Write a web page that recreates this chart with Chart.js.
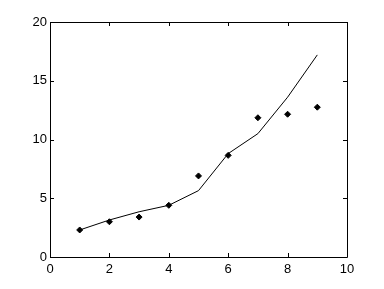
<!DOCTYPE html>
<html lang="en">

<head>
    <meta charset="UTF-8">
    <title>Fit</title>
    <script src="https://cdn.jsdelivr.net/npm/chart.js"></script>
    <style>
        html, body { margin: 0; padding: 0; background: #fff; }
        #wrap { width: 384px; height: 289px; }
    </style>
</head>

<body>
    <div id="wrap">
        <canvas id="myChart" width="384" height="289"></canvas>
    </div>

    <script>
        const xValues = [1, 2, 3, 4, 5, 6, 7, 8, 9];
        const measured = [2.3, 3.0, 3.4, 4.4, 6.9, 8.65, 11.85, 12.15, 12.75];
        const fitted = [2.3, 3.15, 3.85, 4.4, 5.65, 8.8, 10.5, 13.6, 17.2];
        const xTicks = [0, 2, 4, 6, 8, 10];
        const yTicks = [0, 5, 10, 15, 20];

        // matlab style box with inward ticks
        const boxPlugin = {
            id: 'box',
            afterDraw(chart) {
                const ctx = chart.ctx;
                const a = chart.chartArea;
                const xs = chart.scales.x;
                const ys = chart.scales.y;
                const len = 4;
                ctx.save();
                ctx.strokeStyle = '#000';
                ctx.lineWidth = 1;
                ctx.beginPath();
                ctx.rect(a.left + 0.5, a.top + 0.5, a.right - a.left, a.bottom - a.top);
                xTicks.forEach(v => {
                    const px = Math.round(xs.getPixelForValue(v)) + 0.5;
                    ctx.moveTo(px, a.bottom);
                    ctx.lineTo(px, a.bottom - len);
                    ctx.moveTo(px, a.top);
                    ctx.lineTo(px, a.top + len);
                });
                yTicks.forEach(v => {
                    const py = Math.round(ys.getPixelForValue(v)) + 0.5;
                    ctx.moveTo(a.left, py);
                    ctx.lineTo(a.left + len, py);
                    ctx.moveTo(a.right, py);
                    ctx.lineTo(a.right - len, py);
                });
                ctx.stroke();
                ctx.restore();
            }
        };

        const ctx = document.getElementById('myChart').getContext('2d');
        const tickFont = { family: 'Liberation Sans, Arial, sans-serif', size: 13 };

        new Chart(ctx, {
            type: 'scatter',
            data: {
                datasets: [{
                    label: 'data',
                    data: xValues.map((x, i) => ({ x: x, y: measured[i] })),
                    showLine: false,
                    pointStyle: 'rectRot',
                    pointRadius: 3,
                    backgroundColor: '#000',
                    borderColor: '#000',
                    borderWidth: 1
                }, {
                    label: 'fit',
                    data: xValues.map((x, i) => ({ x: x, y: fitted[i] })),
                    showLine: true,
                    pointRadius: 0,
                    borderColor: '#000',
                    borderWidth: 1,
                    tension: 0
                }]
            },
            options: {
                responsive: false,
                animation: false,
                layout: { padding: { left: 0, top: 22, right: 37, bottom: 0 } },
                plugins: {
                    legend: { display: false },
                    tooltip: { enabled: false }
                },
                scales: {
                    x: {
                        type: 'linear',
                        min: 0,
                        max: 10,
                        afterBuildTicks: s => { s.ticks = xTicks.map(v => ({ value: v })); },
                        afterFit: s => { s.height = 32; },
                        grid: { display: false, drawTicks: false },
                        border: { display: false },
                        ticks: { color: '#000', font: tickFont, padding: 5, maxRotation: 0 }
                    },
                    y: {
                        min: 0,
                        max: 20,
                        afterBuildTicks: s => { s.ticks = yTicks.map(v => ({ value: v })); },
                        afterFit: s => { s.width = 50; },
                        grid: { display: false, drawTicks: false },
                        border: { display: false },
                        ticks: { color: '#000', font: tickFont, padding: 3 }
                    }
                }
            },
            plugins: [boxPlugin]
        });
    </script>

</body>

</html>
